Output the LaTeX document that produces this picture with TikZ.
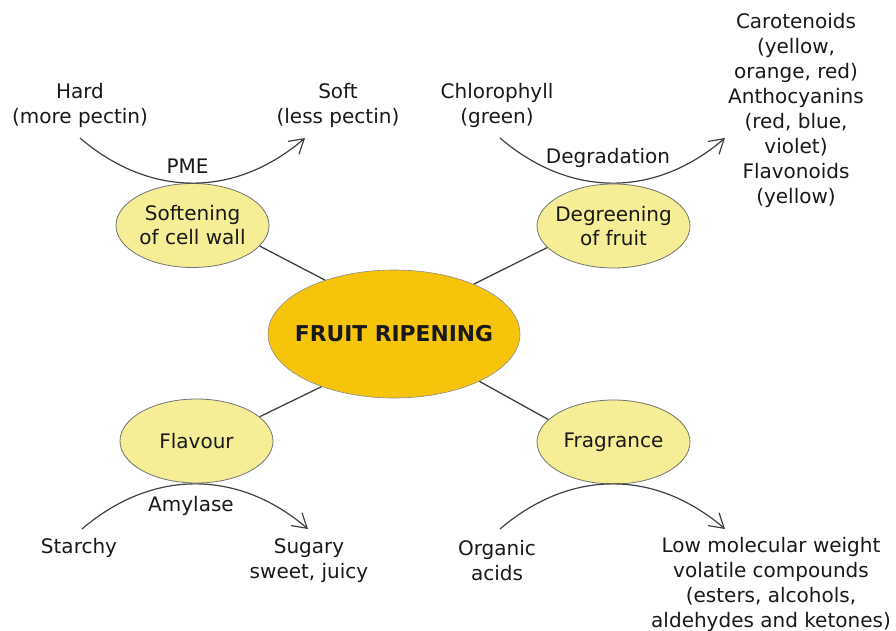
\documentclass[tikz,border=0pt]{standalone}
\usepackage{fontspec}
\setmainfont{DejaVu Sans}
\usetikzlibrary{arrows.meta,shapes.geometric}
\definecolor{mainfill}{RGB}{247,196,12}
\definecolor{subfill}{RGB}{245,238,150}
\definecolor{inkc}{RGB}{25,25,25}
\begin{document}
\begin{tikzpicture}[x=1pt,y=-1pt,
  txt/.style={align=center,font=\fontsize{20}{25}\selectfont,inner sep=0pt,text=inkc},
  lbl/.style={align=center,font=\fontsize{20}{24}\selectfont,inner sep=0pt,text=inkc},
  sub/.style={ellipse,draw=black!55,line width=0.8pt,fill=subfill,minimum width=153pt,minimum height=84pt,inner sep=0pt},
  mainell/.style={ellipse,draw=black!45,line width=0.6pt,fill=mainfill,minimum width=252pt,minimum height=128pt,inner sep=0pt},
  conn/.style={draw=black!75,line width=1.3pt},
  arcc/.style={draw=black!75,line width=1.2pt,-{Straight Barb[length=14pt,width=17pt,line width=1.2pt]}}]
\useasboundingbox (0,0) rectangle (896,631);

% ellipses
\node[mainell] (main) at (394,334) {};
\node[font=\bfseries\fontsize{21.8}{24}\selectfont,text=inkc,inner sep=0pt] (mt) at (main.center) {FRUIT RIPENING};
\node[sub,label={[lbl]center:{Softening\\of cell wall}}] (soft) at (192.5,225.5) {};
\node[sub,label={[lbl]center:{Degreening\\of fruit}}] (degr) at (613.5,226) {};
\node[sub,label={[lbl]center:{Flavour}}] (flav) at (196.5,441) {};
\node[sub,label={[lbl]center:{Fragrance}}] (frag) at (613.5,442) {};

% connectors to centre
\draw[conn] (soft.-17) -- (main.142);
\draw[conn] (degr.198) -- (main.32);
\draw[conn] (flav.21) -- (main.-144);
\draw[conn] (frag.161) -- (main.-29);

% texts
\node[txt] (hard) at (80,105) {Hard\\(more pectin)};
\node[txt] (softt) at (338,105) {Soft\\(less pectin)};
\node[txt] (chl) at (497,105) {Chlorophyll\\(green)};
\node[txt] (car) at (796,110) {Carotenoids\\(yellow,\\orange, red)\\Anthocyanins\\(red, blue,\\violet)\\Flavonoids\\(yellow)};
\node[txt] (pme) at (187.5,166) {PME};
\node[txt] (deg) at (608,158) {Degradation};
\node[txt] (amy) at (191,506) {Amylase};
\node[txt] (sta) at (79,548) {Starchy};
\node[txt] (sug) at (309,561) {Sugary\\sweet, juicy};
\node[txt] (org) at (497,561) {Organic\\acids};
\node[txt] (low) at (771,584) {Low molecular weight\\volatile compounds\\(esters, alcohols,\\aldehydes and ketones)};

% arc end points
\coordinate (a1s) at (80,138);  \coordinate (a1e) at (305,138);
\coordinate (a2s) at (500,138); \coordinate (a2e) at (725,138);
\coordinate (a3s) at (82,529);  \coordinate (a3e) at (308,529);
\coordinate (a4s) at (500,529); \coordinate (a4e) at (725,529);

\draw[arcc] (a1s) .. controls (150,198) and (235,198) .. (a1e);
\draw[arcc] (a2s) .. controls (570,198) and (655,198) .. (a2e);
\draw[arcc] (a3s) .. controls (152,469) and (238,469) .. (a3e);
\draw[arcc] (a4s) .. controls (570,469) and (655,469) .. (a4e);
\end{tikzpicture}
\end{document}
